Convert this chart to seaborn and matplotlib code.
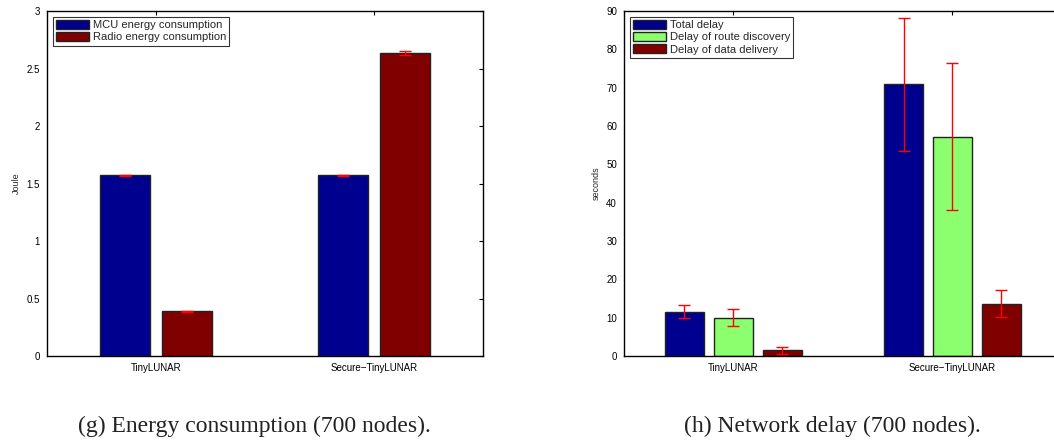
import pandas as pd
import matplotlib
matplotlib.use('Agg')
import matplotlib.pyplot as plt
import seaborn as sns

# energy consumption (700 nodes)
protocols = ['TinyLUNAR', 'Secure\u2212TinyLUNAR']
energy_series = ['MCU energy consumption', 'Radio energy consumption']
mcu_energy = [1.57, 1.57]
mcu_energy_err = [0.003, 0.003]
radio_energy = [0.39, 2.635]
radio_energy_err = [0.004, 0.02]

# network delay (700 nodes)
delay_series = ['Total delay', 'Delay of route discovery', 'Delay of data delivery']
total_delay = [11.6, 70.9]
total_delay_err = [1.6, 17.3]
route_delay = [10.0, 57.2]
route_delay_err = [2.2, 19.2]
data_delay = [1.5, 13.7]
data_delay_err = [0.9, 3.4]

energy_yticks = [0, 0.5, 1, 1.5, 2, 2.5, 3]
delay_yticks = [0, 10, 20, 30, 40, 50, 60, 70, 80, 90]

blue = '#00008f'
green = '#8cff6f'
red = '#800000'

sns.set_theme(style='white')
plt.rcParams['font.family'] = ['Liberation Sans', 'DejaVu Sans']
plt.rcParams['xtick.direction'] = 'in'
plt.rcParams['ytick.direction'] = 'in'


def make_df(series_names, values):
    rows = []
    for name, vals in zip(series_names, values):
        for p, v in zip(protocols, vals):
            rows.append({'protocol': p, 'series': name, 'value': v})
    return pd.DataFrame(rows)


def draw_panel(ax, df, series_names, errs, colors, width, ylim, yticks, ylabel):
    sns.barplot(data=df, x='protocol', y='value', hue='series', order=protocols,
                hue_order=series_names, palette=colors, width=width, gap=0.2,
                errorbar=None, edgecolor='#222222', linewidth=1.0, saturation=1,
                ax=ax)
    for cont, err in zip(ax.containers, errs):
        xs = [b.get_x() + b.get_width() / 2 for b in cont]
        ys = [b.get_height() for b in cont]
        ax.errorbar(xs, ys, yerr=err, fmt='none', ecolor='red', elinewidth=1.0,
                    capsize=4, capthick=1.0, zorder=5)
    ax.set_xlim(-0.5, 1.5)
    ax.set_ylim(*ylim)
    ax.set_yticks(yticks)
    ax.set_yticklabels([f'{t:g}' for t in yticks])
    ax.set_xlabel('')
    ax.set_ylabel(ylabel, fontsize=6.5, labelpad=4)
    ax.tick_params(axis='both', labelsize=7, length=3, width=0.8,
                   top=True, right=True, colors='black', pad=5)
    for s in ax.spines.values():
        s.set_visible(True)
        s.set_color('black')
        s.set_linewidth(1.0)
    leg = ax.legend(loc='upper left', fontsize=8, frameon=True, fancybox=False,
                    edgecolor='black', handlelength=3.0, handleheight=0.9,
                    borderpad=0.3, labelspacing=0.15, handletextpad=0.3,
                    borderaxespad=0.5)
    leg.get_frame().set_linewidth(0.8)
    ax.set_facecolor('white')


fig = plt.figure(figsize=(10.54, 4.41), dpi=100)
ax1 = fig.add_axes([0.0446, 0.1927, 0.4137, 0.7823])
ax2 = fig.add_axes([0.592, 0.1927, 0.4156, 0.7823])

draw_panel(ax1, make_df(energy_series, [mcu_energy, radio_energy]), energy_series,
           [mcu_energy_err, radio_energy_err], [blue, red], 0.572,
           (0, 3), energy_yticks, 'Joule')
draw_panel(ax2, make_df(delay_series, [total_delay, route_delay, data_delay]),
           delay_series, [total_delay_err, route_delay_err, data_delay_err],
           [blue, green, red], 0.671, (0, 90), delay_yticks, 'seconds')

fig.text(0.2415, 0.020, '(g) Energy consumption (700 nodes).', ha='center',
         va='baseline', fontsize=17, family=['Liberation Serif'], color='#222222')
fig.text(0.790, 0.020, '(h) Network delay (700 nodes).', ha='center',
         va='baseline', fontsize=17, family=['Liberation Serif'], color='#222222')

fig.savefig('out.png', dpi=100)
